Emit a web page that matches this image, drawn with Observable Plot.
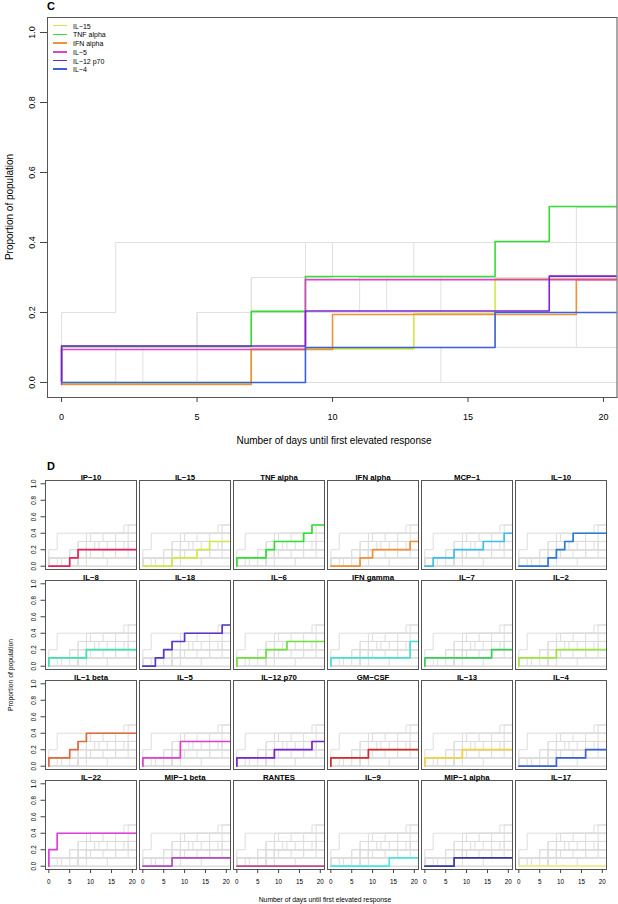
<!DOCTYPE html>
<html>
<head>
<meta charset="utf-8">
<script src="https://cdn.jsdelivr.net/npm/d3@7"></script>
<script src="https://cdn.jsdelivr.net/npm/@observablehq/plot@0.6"></script>
<style>
  body { margin: 0; background: #fff; font-family: "Liberation Sans", Arial, Helvetica, sans-serif; }
  #wrap { position: relative; width: 618px; height: 904px; overflow: hidden; }
  .abs { position: absolute; white-space: nowrap; line-height: 1; color: #000; }
</style>
</head>
<body>
<div id="wrap">
  <div id="panelC" class="abs" style="left:0;top:0"></div>
  <div id="panelD" class="abs" style="left:0;top:462px"></div>
</div>
<script>
// ---------- DATA ----------
const cytokines = ["IP−10","IL−15","TNF alpha","IFN alpha","MCP−1","IL−10",
  "IL−8","IL−18","IL−6","IFN gamma","IL−7","IL−2",
  "IL−1 beta","IL−5","IL−12 p70","GM−CSF","IL−13","IL−4",
  "IL−22","MIP−1 beta","RANTES","IL−9","MIP−1 alpha","IL−17"];
const colours = ["#e6245c","#cfea48","#33dd33","#f0913a","#3cbfee","#2a7bd6",
  "#3de3a8","#5a35c8","#6ee040","#4ae0d0","#3ccc58","#a0e640",
  "#e06a3a","#e040cc","#7a22d0","#d42a2a","#f2cf45","#3a62d6",
  "#e03ee0","#b04cc0","#c04c8c","#4ae6e6","#363aa0","#f0f08a"];
// day at which the proportion steps up, and the new proportion
const stepDays = [
  [5,7],[7,13,16],[0,7,9,16,18],[7,10,19],[2,7,14,19],[7,9,11,13],
  [0,9],[3,5,7,10,19],[0,7,12],[0,19],[0,16],[0,9],
  [0,5,7,9],[0,9],[0,9,18],[0,9],[0,9],[9,16],
  [0,2],[7],[],[14],[7],[]
];
const stepLevels = [
  [0.1,0.2],[0.1,0.2,0.3],[0.1,0.2,0.3,0.4,0.5],[0.1,0.2,0.3],[0.1,0.2,0.3,0.4],[0.1,0.2,0.3,0.4],
  [0.1,0.2],[0.1,0.2,0.3,0.4,0.5],[0.1,0.2,0.3],[0.1,0.3],[0.1,0.2],[0.1,0.2],
  [0.1,0.2,0.3,0.4],[0.1,0.3],[0.1,0.2,0.3],[0.1,0.2],[0.1,0.2],[0.1,0.2],
  [0.2,0.4],[0.1],[],[0.1],[0.1],[]
];
// panel C highlighted series and their small vertical jitter (proportion units)
const highlighted = ["IL−15","TNF alpha","IFN alpha","IL−5","IL−12 p70","IL−4"];
const jitterC = [-0.004, 0.003, -0.006, -0.006, 0.004, 0.0];
const yTicks = [0, 0.2, 0.4, 0.6, 0.8, 1.0];
const xTicks = [0, 5, 10, 15, 20];
const xTitle = "Number of days until first elevated response";
const yTitle = "Proportion of population";

// ---------- helpers ----------
function steps(i, dy = 0) {
  const name = cytokines[i];
  const pts = [{name, day: 0, value: dy}];
  stepDays[i].forEach((d, j) => pts.push({name, day: d, value: stepLevels[i][j] + dy}));
  const lv = stepLevels[i];
  pts.push({name, day: 22, value: (lv.length ? lv[lv.length - 1] : 0) + dy});
  return pts;
}
const fmt = d3.format(".1f");
const font = "'Liberation Sans', Arial, Helvetica, sans-serif";
const wrap = document.getElementById("wrap");
function label(text, cx, cy, size, weight = "normal", rotate = 0) {
  const el = document.createElement("div");
  el.className = "abs";
  el.textContent = text;
  el.style.left = cx + "px";
  el.style.top = cy + "px";
  el.style.fontSize = size + "px";
  el.style.fontWeight = weight;
  el.style.transform = `translate(-50%,-50%) rotate(${rotate}deg)`;
  wrap.appendChild(el);
}

// ---------- Panel C ----------
const grayC = cytokines.flatMap((n, i) => highlighted.includes(n) ? [] : steps(i));
const hiC = highlighted.flatMap((n, k) => steps(cytokines.indexOf(n), jitterC[k]));

const chartC = Plot.plot({
  width: 618, height: 462,
  marginLeft: 47, marginRight: 1.5, marginTop: 17, marginBottom: 65,
  style: {fontFamily: font, fontSize: "9px", color: "#000", background: "transparent", overflow: "visible"},
  x: {domain: [-0.52, 20.5]},
  y: {domain: [-0.043, 1.043]},
  color: {domain: cytokines, range: colours},
  marks: [
    Plot.line(grayC, {x: "day", y: "value", z: "name", stroke: "#e0e0e0", strokeWidth: 1, curve: "step-after", clip: true}),
    Plot.line(hiC, {x: "day", y: "value", z: "name", stroke: "name", strokeWidth: 1.6, curve: "step-after", clip: true}),
    Plot.frame({stroke: "#555"}),
    Plot.axisX({ticks: xTicks, tickSize: 5, tickPadding: 11, label: null, stroke: "#444"}),
    Plot.axisY({ticks: yTicks, tickFormat: fmt, tickRotate: -90, tickSize: 7, tickPadding: 6, label: null, stroke: "#444"})
  ]
});
document.getElementById("panelC").appendChild(chartC);

// legend for panel C
highlighted.forEach((n, k) => {
  const y = 25.7 + 8.7 * k;
  const ln = document.createElement("div");
  ln.className = "abs";
  ln.style.cssText = `left:53px;top:${y - 0.8}px;width:14px;height:1.6px;background:${colours[cytokines.indexOf(n)]}`;
  wrap.appendChild(ln);
  const t = document.createElement("div");
  t.className = "abs";
  t.textContent = n;
  t.style.cssText = `left:73px;top:${y}px;font-size:7px;transform:translateY(-50%)`;
  wrap.appendChild(t);
});

label("C", 51, 5.5, 11, "bold");
label(xTitle, 334, 441, 10);
label(yTitle, 10, 207, 10, "normal", -90);

// ---------- Panel D ----------
const grayD = cytokines.flatMap((n, i) => steps(i));
const colourD = cytokines.flatMap((n, i) => steps(i).map(p => ({...p, col: i % 6, row: Math.floor(i / 6)})));
const titlesD = cytokines.map((n, i) => ({name: n, col: i % 6, row: Math.floor(i / 6)}));

const chartD = Plot.plot({
  width: 618, height: 442,
  marginLeft: 42.3, marginRight: 10.3, marginTop: 18, marginBottom: 34.7,
  style: {fontFamily: font, fontSize: "6.3px", color: "#000", background: "transparent", overflow: "visible"},
  fx: {domain: [0, 1, 2, 3, 4, 5], paddingInner: 0.035, paddingOuter: 0, axis: null},
  fy: {domain: [0, 1, 2, 3], paddingInner: 0.11, paddingOuter: 0, axis: null},
  x: {domain: [-0.8, 21]},
  y: {domain: [-0.04, 1.04]},
  color: {domain: cytokines, range: colours},
  marks: [
    Plot.line(grayD, {x: "day", y: "value", z: "name", stroke: "#dddddd", strokeWidth: 1, curve: "step-after", clip: true}),
    Plot.line(colourD, {x: "day", y: "value", z: "name", fx: "col", fy: "row", stroke: "name", strokeWidth: 1.7, curve: "step-after", clip: true}),
    Plot.frame({stroke: "#555"}),
    Plot.text(titlesD, {fx: "col", fy: "row", text: "name", frameAnchor: "top", dy: -6.5, fontWeight: "bold", fontSize: 7.8}),
    Plot.axisX({ticks: xTicks, tickSize: 4, tickPadding: 6, label: null, stroke: "#444"}),
    Plot.axisY({ticks: yTicks, tickFormat: fmt, tickRotate: -90, tickSize: 4.5, tickPadding: 5, label: null, stroke: "#444"})
  ]
});
document.getElementById("panelD").appendChild(chartD);

label("D", 51, 466, 11, "bold");
label(xTitle, 325, 900, 6.8);
label(yTitle, 11, 674.5, 6.8, "normal", -90);
</script>
</body>
</html>
